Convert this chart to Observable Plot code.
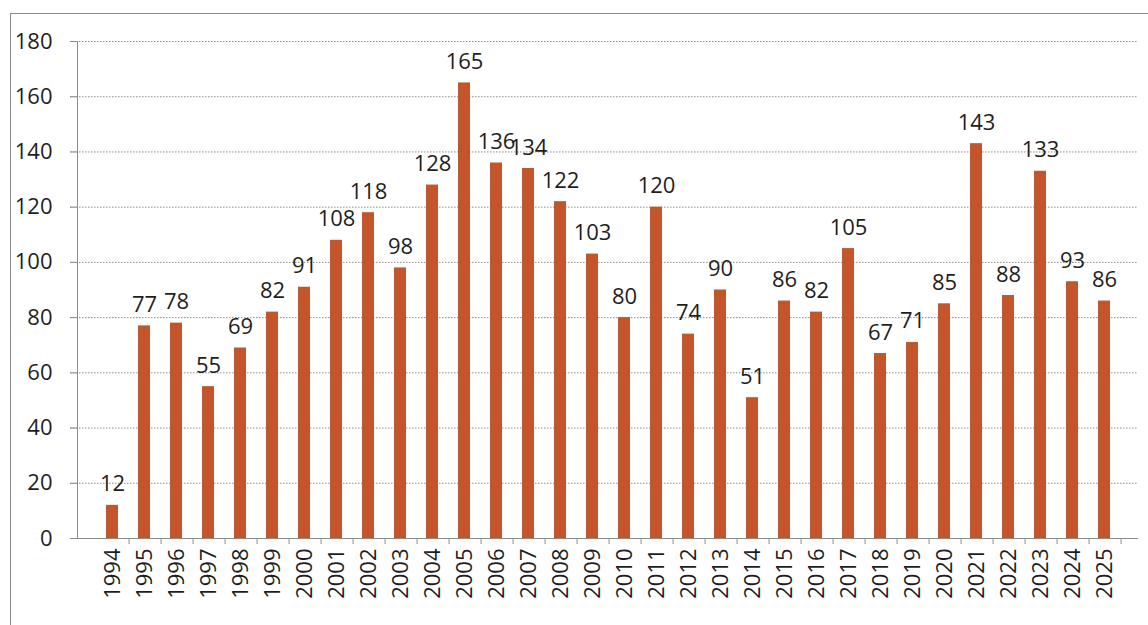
<!DOCTYPE html>
<html>
<head>
<meta charset="utf-8">
<script src="https://cdn.jsdelivr.net/npm/d3@7"></script>
<script src="https://cdn.jsdelivr.net/npm/@observablehq/plot@0.6"></script>
<style>
  html, body { margin: 0; padding: 0; background: #fff; }
  #wrap { position: relative; width: 1148px; height: 625px; overflow: hidden; }
  #border { position: absolute; left: 10px; top: 13px; right: -2px; bottom: -2px;
            border-left: 1.5px solid #8a8a8a; border-top: 1.5px solid #8a8a8a; pointer-events: none; }
  svg { font-family: "Open Sans", sans-serif; }
</style>
</head>
<body>
<div id="wrap"><div id="border"></div></div>
<script>
// Yearly counts, 1994–2025
const years = ["1994","1995","1996","1997","1998","1999","2000","2001","2002","2003","2004",
  "2005","2006","2007","2008","2009","2010","2011","2012","2013","2014","2015","2016","2017",
  "2018","2019","2020","2021","2022","2023","2024","2025"];
const counts = [12, 77, 78, 55, 69, 82, 91, 108, 118, 98, 128, 165, 136, 134, 122, 103, 80,
  120, 74, 90, 51, 86, 82, 105, 67, 71, 85, 143, 88, 133, 93, 86];
const yTicks = [0, 20, 40, 60, 80, 100, 120, 140, 160, 180];

const data = years.map((year, i) => ({year, count: counts[i]}));

const W = 1148, H = 625;
const mL = 77, mR = 10, mT = 41, mB = 87;
const step = (W - mL - mR) / years.length;
const barColor = "#c4552a";
const textColor = "#1e1e1e";

const chart = Plot.plot({
  width: W,
  height: H,
  marginLeft: mL,
  marginRight: mR,
  marginTop: mT,
  marginBottom: mB,
  style: {fontFamily: "'Open Sans', sans-serif", background: "transparent", color: textColor},
  x: {domain: years, padding: 0.63, align: 0.5, label: null},
  y: {domain: [0, 180], label: null},
  marks: [
    // dotted gridlines, starting at the tick marks
    Plot.ruleY(yTicks.filter(t => t > 0), {stroke: "#8c8c8c", strokeDasharray: "1.5,1.5", strokeWidth: 1, insetLeft: -7}),
    Plot.barY(data, {x: "year", y: "count", fill: barColor}),
    Plot.text(data, {x: "year", y: "count", text: d => String(d.count), dy: -14,
      lineAnchor: "bottom", fontSize: 22, fill: textColor}),
    // y axis
    Plot.axisY({ticks: yTicks, tickSize: 7, tickPadding: 18, fontSize: 22, stroke: "#8c8c8c", fill: textColor, label: null}),
    Plot.frame({anchor: "left", stroke: "#8c8c8c"}),
    // x axis line and boundary ticks between categories
    Plot.ruleY([0], {stroke: "#8c8c8c"}),
    Plot.axisX({tickSize: 6, dx: step / 2, tickFormat: () => "", stroke: "#8c8c8c", label: null}),
    Plot.axisX({tickSize: 0, tickPadding: 10, tickRotate: -90, fontSize: 22, fill: textColor, label: null})
  ]
});

document.getElementById("wrap").prepend(chart);
</script>
</body>
</html>
